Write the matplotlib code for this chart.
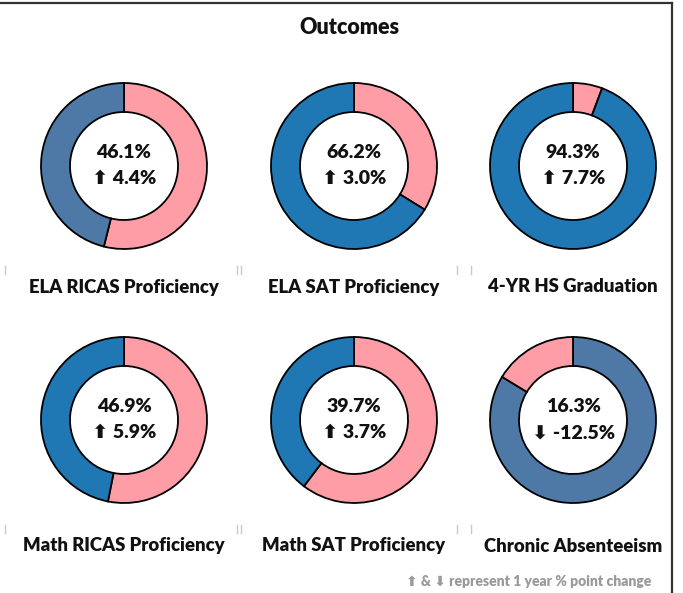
import matplotlib
matplotlib.use("Agg")
import matplotlib.pyplot as plt

# data
labels = ["ELA RICAS Proficiency", "ELA SAT Proficiency", "4-YR HS Graduation",
          "Math RICAS Proficiency", "Math SAT Proficiency", "Chronic Absenteeism"]
values = [46.1, 66.2, 94.3, 46.9, 39.7, 16.3]
changes = [4.4, 3.0, 7.7, 5.9, 3.7, -12.5]
# share of the ring drawn in blue (the rest is pink)
blue_share = [46.1, 66.2, 94.3, 46.9, 39.7, 83.7]
pink_first = [True, True, True, True, True, False]
blue_colors = ["#4e79a7", "#1f77b4", "#1f77b4", "#1f77b4", "#1f77b4", "#4e79a7"]
PINK = "#ff9da7"

W, H = 683, 593
col_x = [124, 354, 573]
row_y = [166, 420]
label_y = [287, 546]
r_out, r_in = 83, 54

plt.rcParams["font.family"] = ["Lato", "DejaVu Sans"]
fig = plt.figure(figsize=(W / 100, H / 100), dpi=100)
ax = fig.add_axes([0, 0, 1, 1])

def fy(y):
    return H - y

for i, lab in enumerate(labels):
    cx = col_x[i % 3]
    cy = row_y[i // 3]
    b = blue_share[i]
    if pink_first[i]:
        sizes, cols = [100 - b, b], [PINK, blue_colors[i]]
    else:
        sizes, cols = [b, 100 - b], [blue_colors[i], PINK]
    ax.pie(sizes, colors=cols, center=(cx, fy(cy)), radius=r_out,
           startangle=90, counterclock=False, frame=True,
           wedgeprops=dict(width=r_out - r_in, edgecolor="black", linewidth=1.3))
    ax.text(cx, fy(cy - 13), f"{values[i]:.1f}%", ha="center", va="center",
            fontsize=14, fontweight="heavy", color="#111111")
    arrow = "\u2B06" if changes[i] >= 0 else "\u2B07"
    ax.text(cx, fy(cy + 13), f"{arrow} {changes[i]:.1f}%", ha="center", va="center",
            fontsize=14, fontweight="heavy", color="#111111")
    ax.text(cx, fy(label_y[i // 3]), lab, ha="center", va="center",
            fontsize=13.3, fontweight="heavy", color="#111111")

# restore limits after pie calls
ax.set_xlim(0, W)
ax.set_ylim(0, H)
ax.set_aspect("equal")
ax.axis("off")

ax.text(349, fy(28), "Outcomes", ha="center", va="center",
        fontsize=15.5, fontweight="heavy", color="#111111")
ax.text(651, fy(581), "\u2B06 & \u2B07 represent 1 year % point change", ha="right",
        va="center", fontsize=10, fontweight="heavy", color="#9a9a9a")

# faint separator ticks
for ty in [270, 529]:
    for tx in [5, 237, 241, 457, 471]:
        ax.plot([tx, tx], [fy(ty - 4), fy(ty + 4)], color="#c8c8c8", lw=1)

# frame lines (top and right)
ax.plot([0, 672], [fy(3), fy(3)], color="#333333", lw=1.6)
ax.plot([672, 672], [fy(3), 0], color="#333333", lw=1.6)

fig.savefig("out.png", dpi=100)
